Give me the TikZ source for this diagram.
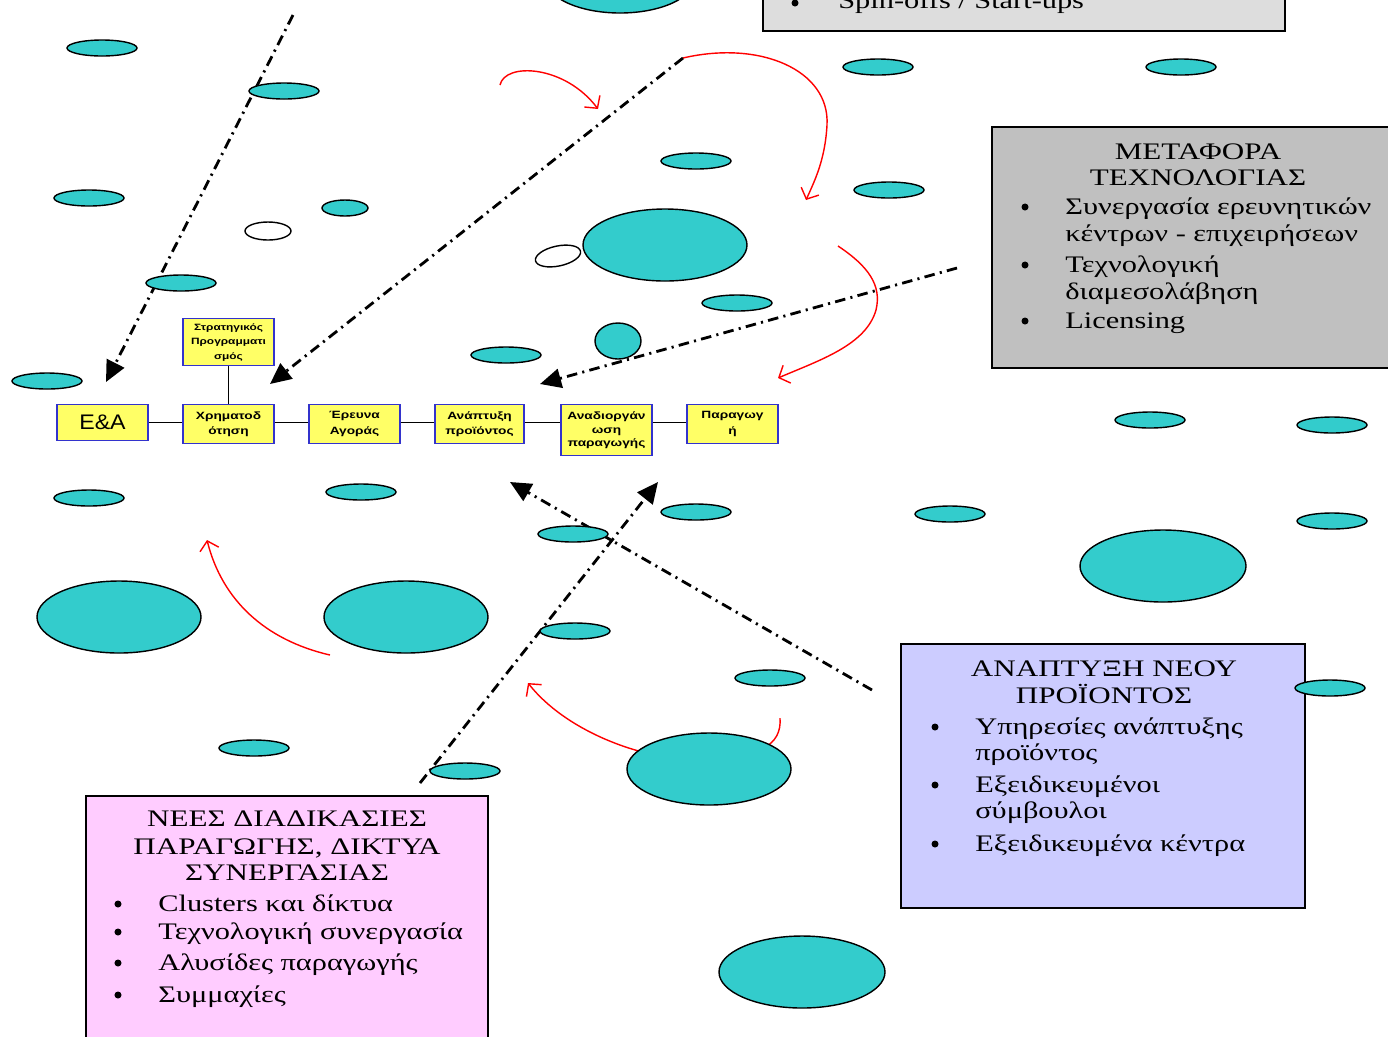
\documentclass[tikz,border=0pt]{standalone}
\usepackage{fontspec}
\setmainfont{Liberation Serif}
\newfontfamily\boxfont[FakeStretch=1.28]{Liberation Serif}
\newfontfamily\titlefont[FakeStretch=1.31]{Liberation Serif}
\newfontfamily\chainfont[FakeStretch=1.3]{Liberation Sans}
\newfontfamily\eafont[FakeStretch=1.1]{Liberation Sans}
\usetikzlibrary{arrows.meta}

\definecolor{cellcol}{RGB}{51,204,204}
\definecolor{stagefill}{RGB}{255,255,102}
\definecolor{stageline}{RGB}{51,51,204}
\definecolor{greyone}{RGB}{221,221,221}
\definecolor{greytwo}{RGB}{192,192,192}
\definecolor{bluebox}{RGB}{204,204,255}
\definecolor{pinkbox}{RGB}{255,204,255}

\begin{document}
\begin{tikzpicture}[x=0.02cm,y=-0.02cm,
	cell/.style={draw=black,line width=0.8pt,fill=cellcol},
	hole/.style={draw=black,line width=0.8pt,fill=white},
	stage/.style={draw=stageline,line width=0.8pt,fill=stagefill,minimum width=1.82cm,minimum height=0.78cm,inner sep=1pt,align=center,anchor=north,font=\chainfont\bfseries\fontsize{6}{9}\selectfont},
	infobox/.style={draw=black,line width=0.9pt},
	txt/.style={font=\boxfont\fontsize{13.5}{14.7}\selectfont,inner sep=0pt,anchor=base west},
	ttl/.style={font=\titlefont\fontsize{13.5}{14.7}\selectfont,inner sep=0pt,anchor=base},
	bul/.style={circle,fill=black,inner sep=0pt,minimum size=4pt},
	flowarrow/.style={line width=1.6pt,dash pattern=on 6pt off 3pt on 1.2pt off 3pt,-{Triangle[length=12pt,width=11pt]}},
	redarc/.style={red,line width=0.8pt,-{Straight Barb[length=5pt,width=11pt]}}]
	\useasboundingbox (0,0) rectangle (1388,1036);
	\clip (0,0) rectangle (1388,1036);
	\fill[white] (0,0) rectangle (1388,1036);

	% boxes
	\draw[infobox,fill=greyone] (763,-60) rectangle (1285,31);
	\draw[infobox,fill=greytwo] (992,127) rectangle (1400,368);
	\draw[infobox,fill=bluebox] (901,644) rectangle (1305,908);
	\draw[infobox,fill=pinkbox] (86,796) rectangle (488,1060);

	% red arcs
	\coordinate (r1s) at (500,85);
	\coordinate (r1e) at (598,109);
	\coordinate (r2s) at (683,58);
	\coordinate (r2e) at (806,200);
	\coordinate (r3s) at (838,246);
	\coordinate (r3e) at (778,378);
	\coordinate (r4s) at (330,655);
	\coordinate (r4e) at (207,540);
	\coordinate (r5s) at (780,718);
	\coordinate (r5e) at (528,683);
	\draw[redarc] (r1s) .. controls (505,62) and (565,65) .. (r1e);
	\draw[redarc] (r2s) .. controls (760,40) and (830,70) .. (827,125) .. controls (825,160) and (815,180) .. (r2e);
	\draw[redarc] (r3s) .. controls (868,266) and (882,285) .. (876,310) .. controls (866,345) and (820,360) .. (r3e);
	\draw[redarc] (r4s) .. controls (265,640) and (222,600) .. (r4e);
	\draw[redarc] (r5s) .. controls (782,745) and (760,758) .. (700,760) .. controls (640,760) and (565,730) .. (r5e);

	% dash-dot arrows
	\coordinate (f1s) at (293,15);
	\coordinate (f1e) at (106,382);
	\coordinate (f2s) at (683,58);
	\coordinate (f2e) at (270,384);
	\coordinate (f3s) at (957,268);
	\coordinate (f3e) at (540,384);
	\coordinate (f4s) at (872,690);
	\coordinate (f4e) at (510,482);
	\coordinate (f5s) at (420,783);
	\coordinate (f5e) at (658,482);
	\draw[flowarrow] (f1s) -- (f1e);
	\draw[flowarrow] (f2s) -- (f2e);
	\draw[flowarrow] (f3s) -- (f3e);
	\draw[flowarrow] (f4s) -- (f4e);
	\draw[flowarrow] (f5s) -- (f5e);

	% ellipses
	\draw[cell] (620,-22) ellipse (75 and 35);
	\draw[cell] (102,48) ellipse (35 and 8);
	\draw[cell] (284,91) ellipse (35 and 8);
	\draw[cell] (878,67) ellipse (35 and 8);
	\draw[cell] (1181,67) ellipse (35 and 8);
	\draw[cell] (696,161) ellipse (35 and 8);
	\draw[cell] (889,190) ellipse (35 and 8);
	\draw[cell] (89,198) ellipse (35 and 8);
	\draw[cell] (345,208) ellipse (23 and 8);
	\draw[hole] (268,231) ellipse (23 and 9);
	\draw[hole,rotate around={12:(558,256)}] (558,256) ellipse (23 and 10);
	\draw[cell] (665,245) ellipse (82 and 36);
	\draw[cell] (181,283) ellipse (35 and 8);
	\draw[cell] (737,303) ellipse (35 and 8);
	\draw[cell] (618,341) ellipse (23 and 18);
	\draw[cell] (506,355) ellipse (35 and 8);
	\draw[cell] (47,381) ellipse (35 and 8);
	\draw[cell] (1150,420) ellipse (35 and 8);
	\draw[cell] (1332,425) ellipse (35 and 8);
	\draw[cell] (361,492) ellipse (35 and 8);
	\draw[cell] (89,498) ellipse (35 and 8);
	\draw[cell] (696,512) ellipse (35 and 8);
	\draw[cell] (950,514) ellipse (35 and 8);
	\draw[cell] (1332,521) ellipse (35 and 8);
	\draw[cell] (573,534) ellipse (35 and 8);
	\draw[cell] (1163,566) ellipse (83 and 36);
	\draw[cell] (119,617) ellipse (82 and 36);
	\draw[cell] (406,617) ellipse (82 and 36);
	\draw[cell] (575,631) ellipse (35 and 8);
	\draw[cell] (770,678) ellipse (35 and 8);
	\draw[cell] (1330,688) ellipse (35 and 8);
	\draw[cell] (254,748) ellipse (35 and 8);
	\draw[cell] (709,769) ellipse (82 and 36);
	\draw[cell] (465,771) ellipse (35 and 8);
	\draw[cell] (802,972) ellipse (83 and 36);

	% stages
	\node[stage,minimum height=0.72cm,font=\eafont\fontsize{12}{14}\selectfont] (ea) at (102.5,404) {Ε\&Α};
	\node[stage] (xrim) at (228.5,404) {Χρηματοδ\\ότηση};
	\node[stage] (ereuna) at (354.5,404) {Έρευνα\\Αγοράς};
	\node[stage,minimum width=1.78cm] (anapt) at (479.5,404) {Ανάπτυξη\\προϊόντος};
	\node[stage,minimum height=1.02cm,font=\chainfont\bfseries\fontsize{6}{7.4}\selectfont] (anadiorg) at (606.5,404) {Αναδιοργάν\\ωση\\παραγωγής};
	\node[stage] (parag) at (732.5,404) {Παραγωγ\\ή};
	\node[stage,minimum height=0.94cm,font=\chainfont\bfseries\fontsize{5.2}{8.2}\selectfont] (strat) at (228.5,318) {Στρατηγικός\\Προγραμματι\\σμός};
	\foreach \a/\b in {ea/xrim,xrim/ereuna,ereuna/anapt,anapt/anadiorg,anadiorg/parag}
		\draw[line width=0.8pt] (\a.east |- ea.east) -- (\b.west |- ea.east);
	\draw[line width=0.8pt] (strat) -- (xrim);

	% texts
	\node[bul] (sb1) at (795,3) {};
	\node[txt] (s1) at (838,8) {Spin-offs / Start-ups};

	\node[ttl] (mt1) at (1198,159) {ΜΕΤΑΦΟΡΑ};
	\node[ttl] (mt2) at (1198,185) {ΤΕΧΝΟΛΟΓΙΑΣ};
	\node[bul] (mb1) at (1025,207) {};
	\node[txt] (m1a) at (1065,214) {Συνεργασία ερευνητικών};
	\node[txt] (m1b) at (1065,241) {κέντρων - επιχειρήσεων};
	\node[bul] (mb2) at (1025,265) {};
	\node[txt] (m2a) at (1065,272) {Τεχνολογική};
	\node[txt] (m2b) at (1065,299) {διαμεσολάβηση};
	\node[bul] (mb3) at (1025,321) {};
	\node[txt] (m3) at (1065,328) {Licensing};

	\node[ttl] (at1) at (1104,676) {ΑΝΑΠΤΥΞΗ ΝΕΟΥ};
	\node[ttl] (at2) at (1104,703) {ΠΡΟΪΟΝΤΟΣ};
	\node[bul] (ab1) at (935,727) {};
	\node[txt] (a1a) at (975,734) {Υπηρεσίες ανάπτυξης};
	\node[txt] (a1b) at (975,760) {προϊόντος};
	\node[bul] (ab2) at (935,785) {};
	\node[txt] (a2a) at (975,792) {Εξειδικευμένοι};
	\node[txt] (a2b) at (975,818) {σύμβουλοι};
	\node[bul] (ab3) at (935,844) {};
	\node[txt] (a3) at (975,851) {Εξειδικευμένα κέντρα};

	\node[ttl] (pt1) at (287,826) {ΝΕΕΣ ΔΙΑΔΙΚΑΣΙΕΣ};
	\node[ttl] (pt2) at (287,854) {ΠΑΡΑΓΩΓΗΣ, ΔΙΚΤΥΑ};
	\node[ttl] (pt3) at (287,880) {ΣΥΝΕΡΓΑΣΙΑΣ};
	\node[bul] (pb1) at (118,904) {};
	\node[txt] (p1) at (158,911) {Clusters και δίκτυα};
	\node[bul] (pb2) at (118,932) {};
	\node[txt] (p2) at (158,939) {Τεχνολογική συνεργασία};
	\node[bul] (pb3) at (118,963) {};
	\node[txt] (p3) at (158,970) {Αλυσίδες παραγωγής};
	\node[bul] (pb4) at (118,995) {};
	\node[txt] (p4) at (158,1002) {Συμμαχίες};
\end{tikzpicture}
\end{document}
